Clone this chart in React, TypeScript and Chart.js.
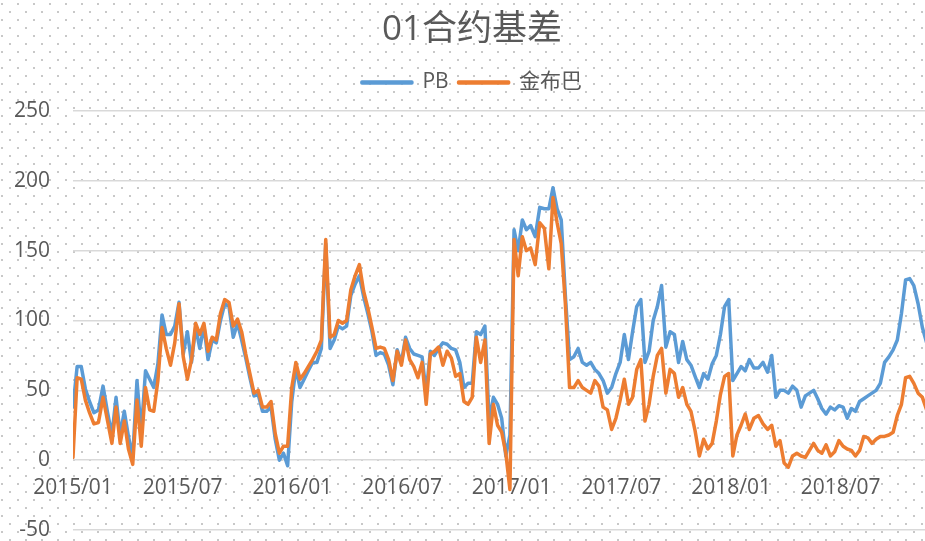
import React, { useEffect, useRef } from "react";
import { Chart, registerables } from "chart.js";

Chart.register(...registerables);

const TITLE = "01合约基差";
const SERIES_NAMES = ["PB", "金布巴"];
const FIRST_WEEK = "2015-01-01"; // weekly observations starting here
const Y_MIN = -50;
const Y_MAX = 250;
const Y_STEP = 50;
const X_LABEL_STEP_MONTHS = 6;

// PB basis, weekly
const PB = [
  38, 67, 67, 51, 42, 34, 36, 53, 34, 18,
  45, 18, 35, 17, 2, 57, 20, 64, 58, 52,
  69, 104, 90, 90, 96, 113, 76, 92, 70, 95,
  80, 96, 72, 86, 84, 100, 112, 110, 88, 98,
  86, 73, 59, 46, 47, 35, 35, 38, 15, 0,
  5, -4, 42, 66, 52, 58, 64, 70, 70, 80,
  155, 80, 86, 96, 94, 96, 118, 126, 132, 117,
  105, 92, 75, 77, 76, 68, 54, 79, 70, 88,
  80, 76, 75, 74, 48, 78, 75, 80, 84, 83,
  80, 79, 70, 52, 55, 55, 92, 90, 96, 28,
  45, 40, 30, 3, 18, 165, 150, 172, 165, 168,
  160, 181, 180, 180, 195, 180, 172, 118, 72, 74,
  80, 70, 68, 70, 65, 62, 57, 48, 52, 62,
  70, 90, 72, 92, 110, 115, 70, 78, 100, 110,
  125, 81, 92, 90, 70, 85, 72, 68, 60, 52,
  62, 58, 69, 75, 90, 110, 115, 57, 62, 67,
  64, 72, 66, 66, 70, 63, 75, 45, 50, 50,
  48, 53, 50, 38, 46, 48, 50, 44, 37, 33,
  38, 36, 39, 38, 30, 37, 35, 42, 44, 46,
  48, 50, 55, 70, 74, 79, 86, 105, 129, 130,
  125, 112, 95, 84,
];

// 金布巴 basis, weekly
const JBB = [
  2, 59, 58, 43, 34, 26, 27, 45, 28, 12,
  38, 12, 28, 8, -3, 43, 10, 52, 36, 35,
  57, 95, 80, 68, 84, 112, 74, 58, 72, 98,
  90, 98, 78, 88, 86, 105, 115, 113, 96, 101,
  92, 76, 62, 48, 50, 38, 38, 42, 19, 5,
  10, 10, 52, 70, 58, 62, 67, 72, 78, 86,
  158, 88, 90, 100, 98, 100, 122, 132, 140, 121,
  109, 95, 80, 81, 80, 72, 57, 78, 68, 86,
  72, 67, 59, 70, 40, 76, 78, 81, 68, 78,
  73, 60, 62, 42, 40, 45, 88, 70, 86, 12,
  40, 25, 20, 5, -21, 158, 132, 160, 150, 152,
  140, 170, 166, 137, 188, 170, 155, 112, 52, 52,
  57, 52, 50, 48, 57, 53, 38, 36, 22, 30,
  43, 58, 40, 45, 65, 72, 28, 40, 60, 75,
  80, 48, 65, 62, 45, 52, 40, 35, 21, 3,
  15, 8, 12, 28, 47, 60, 62, 3, 18, 25,
  33, 22, 30, 32, 26, 22, 25, 10, 14, -2,
  -5, 3, 5, 3, 2, 7, 12, 7, 5, 11,
  3, 6, 14, 10, 8, 7, 3, 7, 17, 16,
  12, 15, 17, 17, 18, 20, 32, 40, 59, 60,
  55, 48, 45, 36,
];

const BLUE = "#5B9BD5";
const ORANGE = "#ED7D31";
const TEXT = "#595959";
const FONT = "'Open Sans', 'Noto Sans CJK SC', sans-serif";

const BASE_YEAR = 2015;

function monthIndex(d: Date): number {
  const y = d.getUTCFullYear();
  const m = d.getUTCMonth();
  const day = d.getUTCDate();
  const dim = new Date(Date.UTC(y, m + 1, 0)).getUTCDate();
  return (y - BASE_YEAR) * 12 + m + (day - 1) / dim;
}

function weekDate(i: number): Date {
  const start = new Date(FIRST_WEEK + "T00:00:00Z").getTime();
  return new Date(start + i * 7 * 86400000);
}

function monthLabel(v: number): string {
  const mi = Math.round(v);
  const y = BASE_YEAR + Math.floor(mi / 12);
  const m = (mi % 12) + 1;
  return `${y}/${String(m).padStart(2, "0")}`;
}

const bgPlugin = {
  id: "dottedBg",
  beforeDraw(chart: any) {
    const ctx = chart.ctx as CanvasRenderingContext2D;
    ctx.save();
    ctx.fillStyle = "#ffffff";
    ctx.fillRect(0, 0, chart.width, chart.height);
    const tile = document.createElement("canvas");
    tile.width = 16;
    tile.height = 16;
    const t = tile.getContext("2d")!;
    t.fillStyle = "#c8c8c8";
    t.fillRect(1, 3, 2, 2);
    t.fillRect(9, 11, 2, 2);
    const pat = ctx.createPattern(tile, "repeat");
    if (pat) {
      ctx.fillStyle = pat;
      ctx.fillRect(0, 0, chart.width, chart.height);
    }
    ctx.restore();
  },
};

const legendGap = {
  id: "legendGap",
  beforeInit(chart: any) {
    const lg = chart.legend;
    if (!lg) return;
    const orig = lg.fit;
    lg.fit = function () {
      orig.call(lg);
      lg.height += 8;
    };
  },
};

export default function App() {
  const ref = useRef<HTMLCanvasElement>(null);

  useEffect(() => {
    const canvas = ref.current;
    if (!canvas) return;
    const xs = PB.map((_, i) => monthIndex(weekDate(i)));
    const chart = new Chart(canvas, {
      type: "line",
      data: {
        datasets: [
          {
            label: SERIES_NAMES[0],
            data: PB.map((v, i) => ({ x: xs[i], y: v })),
            borderColor: BLUE,
            backgroundColor: BLUE,
            borderWidth: 3.5,
            pointRadius: 0,
            tension: 0,
            borderJoinStyle: "round",
            borderCapStyle: "round",
            order: 1,
          },
          {
            label: SERIES_NAMES[1],
            data: JBB.map((v, i) => ({ x: xs[i], y: v })),
            borderColor: ORANGE,
            backgroundColor: ORANGE,
            borderWidth: 3.5,
            pointRadius: 0,
            tension: 0,
            borderJoinStyle: "round",
            borderCapStyle: "round",
            order: 0,
          },
        ],
      },
      options: {
        responsive: false,
        animation: false,
        devicePixelRatio: 1,
        layout: { padding: { left: 0, right: 2, top: 0, bottom: 11 } },
        plugins: {
          title: {
            display: true,
            text: TITLE,
            color: TEXT,
            font: { family: FONT, size: 35, weight: "normal" },
            padding: { top: 9, bottom: 11 },
          },
          legend: {
            position: "top",
            labels: {
              color: TEXT,
              font: { family: FONT, size: 21 },
              boxWidth: 50,
              boxHeight: 1,
              padding: 10,
              sort: (a: any, b: any) => a.datasetIndex - b.datasetIndex,
            },
          },
          tooltip: { enabled: false },
        },
        scales: {
          x: {
            type: "linear",
            position: { y: 0 } as any,
            min: 0,
            max: 47.65,
            grid: { display: false, drawTicks: false },
            border: { display: false },
            ticks: {
              stepSize: X_LABEL_STEP_MONTHS,
              includeBounds: false,
              autoSkip: false,
              maxRotation: 0,
              padding: 15,
              color: TEXT,
              font: { family: FONT, size: 21 },
              callback: (v: any) => monthLabel(Number(v)),
            },
            afterFit: (scale: any) => {
              scale.height = 0;
            },
          },
          y: {
            min: Y_MIN,
            max: Y_MAX,
            grid: { color: "#d9d9d9", lineWidth: 1.5, drawTicks: false },
            border: { display: false },
            ticks: {
              stepSize: Y_STEP,
              padding: 23,
              color: TEXT,
              font: { family: FONT, size: 21, lineHeight: 1 },
            },
            afterFit: (scale: any) => {
              scale.width = 73;
              scale.paddingTop = 0;
              scale.paddingBottom = 0;
            },
          },
        },
      },
      plugins: [bgPlugin, legendGap],
    } as any);
    return () => chart.destroy();
  }, []);

  return (
    <div
      style={{
        position: "fixed",
        left: 0,
        top: 0,
        width: 925,
        height: 541,
        overflow: "hidden",
        background: "#fff",
      }}
    >
      <canvas ref={ref} width={946} height={541} style={{ display: "block" }} />
    </div>
  );
}
